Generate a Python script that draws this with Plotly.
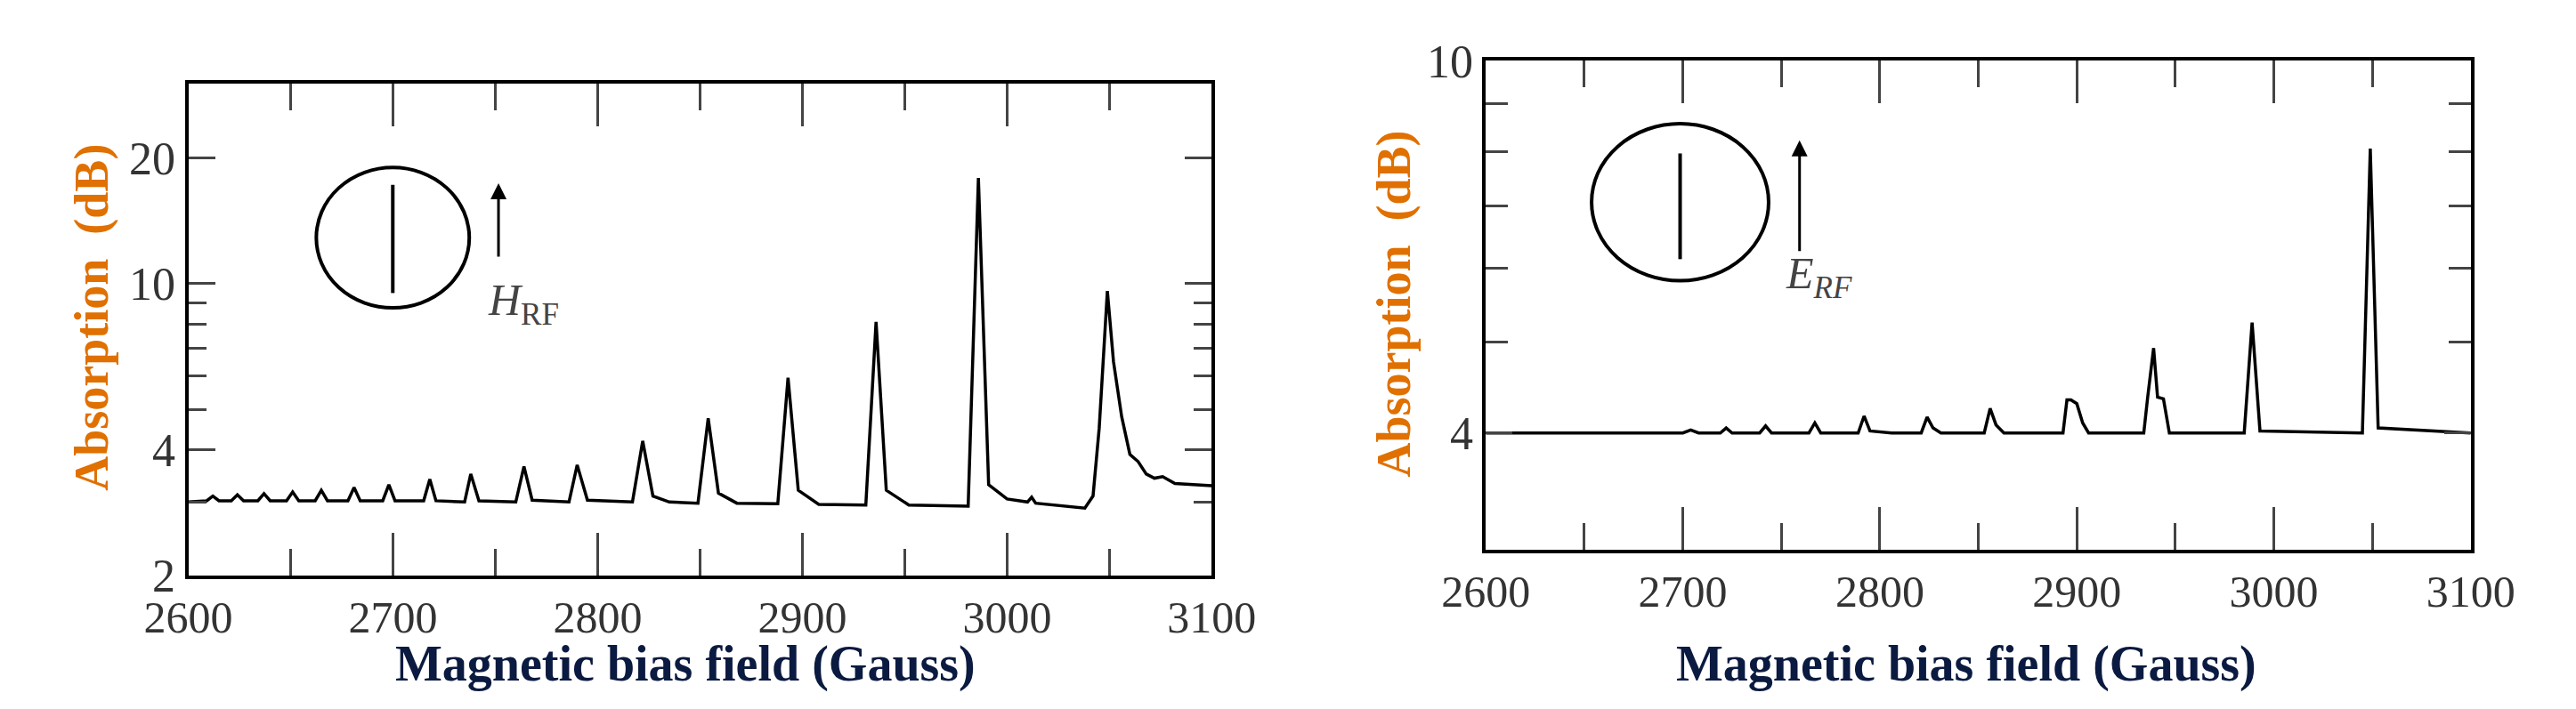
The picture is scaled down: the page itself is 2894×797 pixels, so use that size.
import plotly.graph_objs as go

W, H = 2894, 797

# left panel: H_RF excitation
h_field = [2600, 2609, 2612, 2615, 2621, 2624, 2627, 2634, 2637, 2640, 2648, 2651, 2654,
           2662, 2665, 2668, 2678, 2681, 2684, 2695, 2698, 2701, 2715, 2718, 2721,
           2735, 2738, 2742, 2760, 2764, 2768, 2786, 2790, 2795, 2817, 2822, 2827, 2835,
           2849, 2854, 2859, 2868, 2888, 2893, 2898, 2908, 2931, 2936, 2941, 2952,
           2981, 2986, 2991, 3000, 3010, 3012, 3014, 3030, 3038, 3042, 3045, 3049,
           3052, 3056, 3060, 3064, 3068, 3072, 3076, 3082, 3090, 3100]
h_absorp = [3.0, 3.02, 3.1, 3.02, 3.02, 3.12, 3.02, 3.02, 3.14, 3.02, 3.02, 3.17, 3.02,
            3.02, 3.2, 3.02, 3.02, 3.25, 3.02, 3.02, 3.3, 3.02, 3.02, 3.4, 3.02,
            3.0, 3.5, 3.02, 3.0, 3.65, 3.03, 3.0, 3.68, 3.03, 3.0, 4.2, 3.1, 3.0,
            2.98, 4.76, 3.15, 2.98, 2.97, 5.95, 3.2, 2.96, 2.95, 8.1, 3.2, 2.95,
            2.93, 17.9, 3.3, 3.05, 3.0, 3.08, 2.98, 2.93, 2.9, 3.1, 4.5, 9.6,
            6.5, 4.8, 3.9, 3.75, 3.5, 3.42, 3.45, 3.32, 3.3, 3.28]

# right panel: E_RF excitation
e_field = [2600, 2700, 2704, 2708, 2719, 2722, 2725, 2739, 2742, 2745, 2764, 2767, 2770,
           2789, 2792, 2795, 2806, 2821, 2824, 2827, 2831, 2853, 2856, 2859, 2863,
           2893, 2895, 2897, 2900, 2903, 2906, 2934, 2936, 2939, 2941, 2944, 2947,
           2985, 2989, 2993, 3045, 3049, 3053, 3100]
e_absorp = [4.0, 4.0, 4.03, 4.0, 4.0, 4.05, 4.0, 4.0, 4.07, 4.0, 4.0, 4.1, 4.0,
            4.0, 4.17, 4.02, 4.0, 4.0, 4.16, 4.05, 4.0, 4.0, 4.25, 4.08, 4.0,
            4.0, 4.34, 4.34, 4.3, 4.1, 4.0, 4.0, 4.37, 4.93, 4.37, 4.35, 4.0,
            4.0, 5.25, 4.02, 4.0, 8.06, 4.05, 4.0]

x_ticks = [2600, 2700, 2800, 2900, 3000, 3100]
left_y_ticks = [2, 4, 10, 20]
right_y_ticks = [4, 10]

serif = "Liberation Serif"
fig = go.Figure()
fig.add_trace(go.Scatter(x=h_field, y=h_absorp, mode="lines", xaxis="x", yaxis="y",
                         line=dict(color="black", width=3.5), showlegend=False))
fig.add_trace(go.Scatter(x=e_field, y=e_absorp, mode="lines", xaxis="x2", yaxis="y2",
                         line=dict(color="black", width=3.5), showlegend=False))


def px(x):
    return x / W


def py(y):
    return 1 - y / H


xax = dict(range=[2600, 3100], tickvals=x_ticks, ticks="inside", ticklen=48, tickwidth=3,
           mirror="ticks", showline=True, linecolor="black", linewidth=4, showgrid=False,
           zeroline=False, tickfont=dict(family=serif, size=50, color="#333"),
           minor=dict(tickvals=[2650, 2750, 2850, 2950, 3050], ticklen=30, tickwidth=3,
                      ticks="inside"))
yax = dict(type="log", ticks="inside", ticklen=30, tickwidth=3, mirror="ticks", showline=True,
           linecolor="black", linewidth=4, showgrid=False, zeroline=False,
           tickfont=dict(family=serif, size=52, color="#333"))

fig.update_layout(
    width=W, height=H, margin=dict(l=0, r=0, t=0, b=0),
    plot_bgcolor="white", paper_bgcolor="white",
    xaxis=dict(xax, domain=[px(159), px(1350)], anchor="y"),
    yaxis=dict(yax, domain=[py(658), py(62)], anchor="x", range=[0.301, 1.48],
               tickvals=left_y_ticks,
               minor=dict(tickvals=[3, 5, 6, 7, 8, 9], ticklen=20, tickwidth=3, ticks="inside")),
    xaxis2=dict(xax, domain=[px(1669), px(2815)], anchor="y2"),
    yaxis2=dict(yax, domain=[py(627), py(35)], anchor="x2", range=[0.477, 1.0],
                tickvals=right_y_ticks,
                minor=dict(tickvals=[5, 6, 7, 8, 9], ticklen=25, tickwidth=3, ticks="inside")),
)

# inset sketches: sample with its field direction
for cx, cy, rx, ry, ly0, ly1, ax_, ay0, ay1 in [
        (397, 249, 89, 85, 185, 316, 520, 267, 183),
        (1895, 206, 103, 95, 147, 275, 2034, 257, 131)]:
    fig.add_shape(type="circle", xref="paper", yref="paper",
                  x0=px(cx - rx), x1=px(cx + rx), y0=py(cy + ry), y1=py(cy - ry),
                  line=dict(color="black", width=4))
    fig.add_shape(type="line", xref="paper", yref="paper",
                  x0=px(cx), x1=px(cx), y0=py(ly0), y1=py(ly1),
                  line=dict(color="black", width=4))
    fig.add_annotation(xref="paper", yref="paper", x=px(ax_), y=py(ay1), text="",
                       showarrow=True, axref="pixel", ayref="pixel", ax=0, ay=ay0 - ay1,
                       arrowhead=2, arrowsize=1.2, arrowwidth=3, arrowcolor="black")

fig.add_annotation(xref="paper", yref="paper", x=px(505), y=py(329), xanchor="left",
                   yanchor="middle", showarrow=False, text="<i>H</i><sub>RF</sub>",
                   font=dict(family=serif, size=50, color="#444"))
fig.add_annotation(xref="paper", yref="paper", x=px(2016), y=py(296), xanchor="left",
                   yanchor="middle", showarrow=False, text="<i>E</i><sub><i>RF</i></sub>",
                   font=dict(family=serif, size=50, color="#444"))

for x, y in [(47, 345), (1562, 329)]:
    fig.add_annotation(xref="paper", yref="paper", x=px(x), y=py(y), textangle=-90,
                       xanchor="center", yanchor="middle",
                       showarrow=False, text="<b>Absorption  (dB)</b>",
                       font=dict(family=serif, size=54, color="#E07000"))
for x in [738, 2228]:
    fig.add_annotation(xref="paper", yref="paper", x=px(x), y=py(765),
                       xanchor="center", yanchor="middle",
                       showarrow=False, text="<b>Magnetic bias field (Gauss)</b>",
                       font=dict(family=serif, size=56, color="#0A1A40"))

fig.write_html("out.html")
